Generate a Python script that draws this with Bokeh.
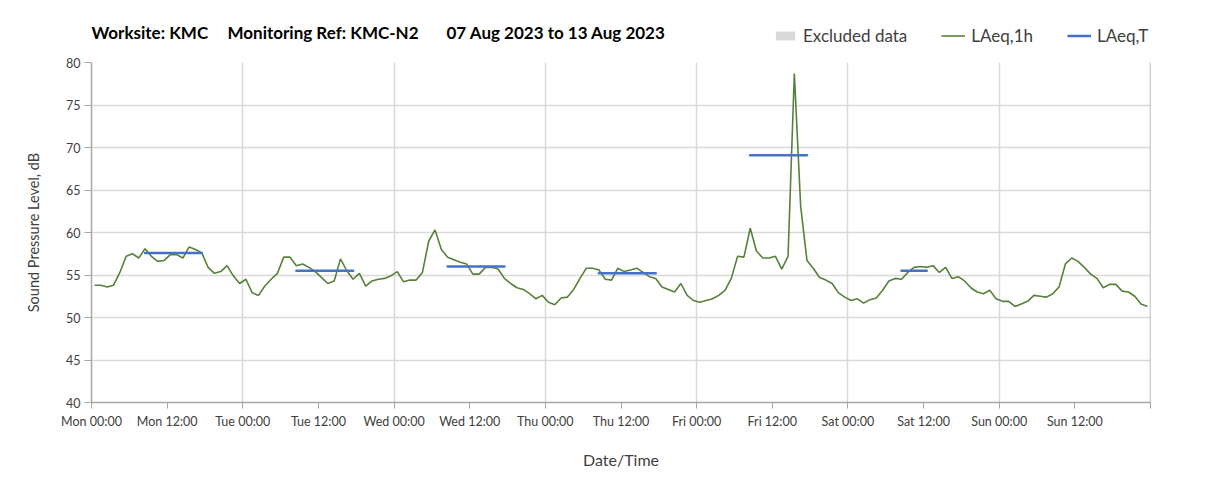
from bokeh.plotting import figure
from bokeh.layouts import column
from bokeh.models import (Range1d, FixedTicker, ColumnDataSource, Legend, LegendItem,
                          Label, Span)
from bokeh.embed import file_html
from bokeh.resources import INLINE

# Hourly LAeq,1h values, Mon 00:00 .. Sun 23:00 (plotted at the middle of each hour)
mon = [53.8, 53.8, 53.6, 53.8, 55.3, 57.2, 57.5, 57.0, 58.1, 57.2, 56.6, 56.7,
       57.4, 57.4, 57.0, 58.3, 58.0, 57.6, 55.9, 55.2, 55.4, 56.1, 54.9, 54.0]
tue = [54.5, 52.9, 52.6, 53.7, 54.5, 55.2, 57.1, 57.1, 56.1, 56.3, 55.9, 55.4,
       54.7, 54.0, 54.3, 56.9, 55.5, 54.5, 55.2, 53.7, 54.3, 54.5, 54.6, 54.9]
wed = [55.4, 54.2, 54.4, 54.4, 55.3, 59.0, 60.3, 58.0, 57.1, 56.8, 56.5, 56.3,
       55.1, 55.1, 55.9, 55.9, 55.7, 54.6, 54.0, 53.5, 53.3, 52.8, 52.2, 52.6]
thu = [51.8, 51.5, 52.3, 52.4, 53.3, 54.6, 55.8, 55.8, 55.6, 54.5, 54.4, 55.8,
       55.4, 55.6, 55.8, 55.3, 54.8, 54.6, 53.6, 53.3, 53.0, 54.0, 52.6, 52.0]
fri = [51.8, 52.0, 52.2, 52.6, 53.2, 54.6, 57.2, 57.1, 60.5, 57.8, 57.0, 57.0,
       57.2, 55.7, 57.2, 78.7, 63.1, 56.7, 55.8, 54.7, 54.4, 54.0, 52.9, 52.4]
sat = [52.0, 52.2, 51.7, 52.1, 52.3, 53.2, 54.3, 54.6, 54.5, 55.3, 55.9, 56.0,
       55.9, 56.1, 55.3, 55.9, 54.6, 54.8, 54.3, 53.5, 53.0, 52.8, 53.2, 52.2]
sun = [51.9, 51.9, 51.3, 51.6, 51.9, 52.6, 52.5, 52.4, 52.8, 53.6, 56.3, 57.0,
       56.6, 55.9, 55.1, 54.6, 53.5, 53.9, 53.9, 53.1, 53.0, 52.5, 51.6, 51.3]
laeq_1h = mon + tue + wed + thu + fri + sat + sun
hour_index = list(range(len(laeq_1h)))

# LAeq,T periods: first and last hour index of each period, and level
lt_first_hour = [8, 32, 56, 80, 104, 128]
lt_last_hour = [17, 41, 65, 89, 113, 132]
lt_value = [57.6, 55.5, 56.0, 55.2, 69.1, 55.5]

tick_hours = list(range(0, 169, 12))
tick_labels = ["Mon 00:00", "Mon 12:00", "Tue 00:00", "Tue 12:00", "Wed 00:00",
               "Wed 12:00", "Thu 00:00", "Thu 12:00", "Fri 00:00", "Fri 12:00",
               "Sat 00:00", "Sat 12:00", "Sun 00:00", "Sun 12:00", ""]
day_hours = list(range(0, 169, 24))
y_ticks = list(range(40, 81, 5))

title_parts = ["Worksite: KMC", "Monitoring Ref: KMC-N2", "07 Aug 2023  to 13 Aug 2023"]

FONT = "Lato"
GREEN = "#58803a"
BLUE = "#4472c4"
GRID = "#d9d9d9"
AXIS = "#a6a6a6"
TEXT = "#404040"

W = 1200
HEAD_H = 50

# ---------------- header (title + legend) ----------------
# (its frame is aligned with the chart frame by the column layout: left edge at 91px)
head = figure(width=W, height=HEAD_H, output_backend="svg", toolbar_location=None,
              x_range=Range1d(0, 1), y_range=Range1d(0, 1),
              x_axis_type=None, y_axis_type=None,
              min_border_left=91, min_border_right=50, min_border_top=0,
              min_border_bottom=0)
head.outline_line_color = None
head.xgrid.visible = False
head.ygrid.visible = False

# off-screen placeholders so that the legend can draw its swatches
excl = ColumnDataSource(dict(left=[-5], right=[-4], bottom=[-5], top=[-4]))
h_excl = head.quad(left="left", right="right", bottom="bottom", top="top", source=excl,
                   fill_color=GRID, line_color=None)
offscreen = ColumnDataSource(dict(x=[-5, -4], y=[-5, -4]))
h_1h = head.line("x", "y", source=offscreen, line_color=GREEN, line_width=1.6)
h_t = head.line("x", "y", source=offscreen, line_color=BLUE, line_width=2.5)

legend = Legend(items=[LegendItem(label="Excluded data", renderers=[h_excl]),
                       LegendItem(label="LAeq,1h", renderers=[h_1h]),
                       LegendItem(label="LAeq,T", renderers=[h_t])],
                location=(682, 4), orientation="horizontal",
                padding=0, margin=0, spacing=34, label_standoff=6,
                glyph_width=24, glyph_height=11,
                border_line_alpha=0, background_fill_alpha=0,
                label_text_font=FONT, label_text_font_size="17px",
                label_text_color=TEXT)
head.add_layout(legend)

title_x = [0, 136, 355]
for tx, txt in zip(title_x, title_parts):
    head.add_layout(Label(x=tx, y=18, x_units="screen", y_units="screen", text=txt,
                          text_font=FONT, text_font_style="bold", text_font_size="17px",
                          text_color="black", text_baseline="middle"))

# ---------------- main chart ----------------
p = figure(width=W, height=441, output_backend="svg", toolbar_location=None,
           x_range=Range1d(0, 168), y_range=Range1d(40, 80),
           min_border_left=91, min_border_right=50, min_border_top=12,
           min_border_bottom=89)
p.outline_line_color = None

p.xgrid.ticker = FixedTicker(ticks=day_hours)
p.xgrid.grid_line_color = GRID
p.xgrid.grid_line_width = 1.5
p.ygrid.ticker = FixedTicker(ticks=y_ticks)
p.ygrid.grid_line_color = GRID
p.ygrid.grid_line_width = 1.5

xa = p.xaxis[0]
xa.ticker = FixedTicker(ticks=tick_hours)
xa.major_label_overrides = {h: lab for h, lab in zip(tick_hours, tick_labels)}
xa.minor_tick_line_color = None
xa.major_tick_in = 0
xa.major_tick_out = 6
xa.axis_line_color = AXIS
xa.major_tick_line_color = AXIS
xa.axis_line_width = 1.5
xa.major_label_text_font = FONT
xa.major_label_text_font_size = "12.5px"
xa.major_label_text_color = TEXT
xa.major_label_standoff = 5
xa.axis_label = "Date/Time"
xa.axis_label_text_font = FONT
xa.axis_label_text_font_size = "16px"
xa.axis_label_text_font_style = "normal"
xa.axis_label_text_color = TEXT
xa.axis_label_standoff = 18

ya = p.yaxis[0]
ya.ticker = FixedTicker(ticks=y_ticks)
ya.minor_tick_line_color = None
ya.major_tick_in = 0
ya.major_tick_out = 7
ya.axis_line_color = AXIS
ya.major_tick_line_color = AXIS
ya.axis_line_width = 1.5
ya.major_label_text_font = FONT
ya.major_label_text_font_size = "12.5px"
ya.major_label_text_color = TEXT
ya.major_label_standoff = 4
ya.axis_label = "Sound Pressure Level, dB"
ya.axis_label_text_font = FONT
ya.axis_label_text_font_size = "14.5px"
ya.axis_label_text_font_style = "normal"
ya.axis_label_text_color = TEXT
ya.axis_label_standoff = 21

p.add_layout(Span(location=168, dimension="height", line_color=AXIS, line_width=1.5))

src = ColumnDataSource(dict(x=[h + 0.5 for h in hour_index], y=laeq_1h))
p.line("x", "y", source=src, line_color=GREEN, line_width=1.6)

lt = ColumnDataSource(dict(x0=[h + 0.5 for h in lt_first_hour],
                           x1=[h + 0.5 for h in lt_last_hour],
                           y=lt_value))
p.segment(x0="x0", y0="y", x1="x1", y1="y", source=lt, line_color=BLUE,
          line_width=2.5, line_cap="round")

layout = column(head, p, spacing=0)
open("out.html", "w").write(file_html(layout, INLINE))
